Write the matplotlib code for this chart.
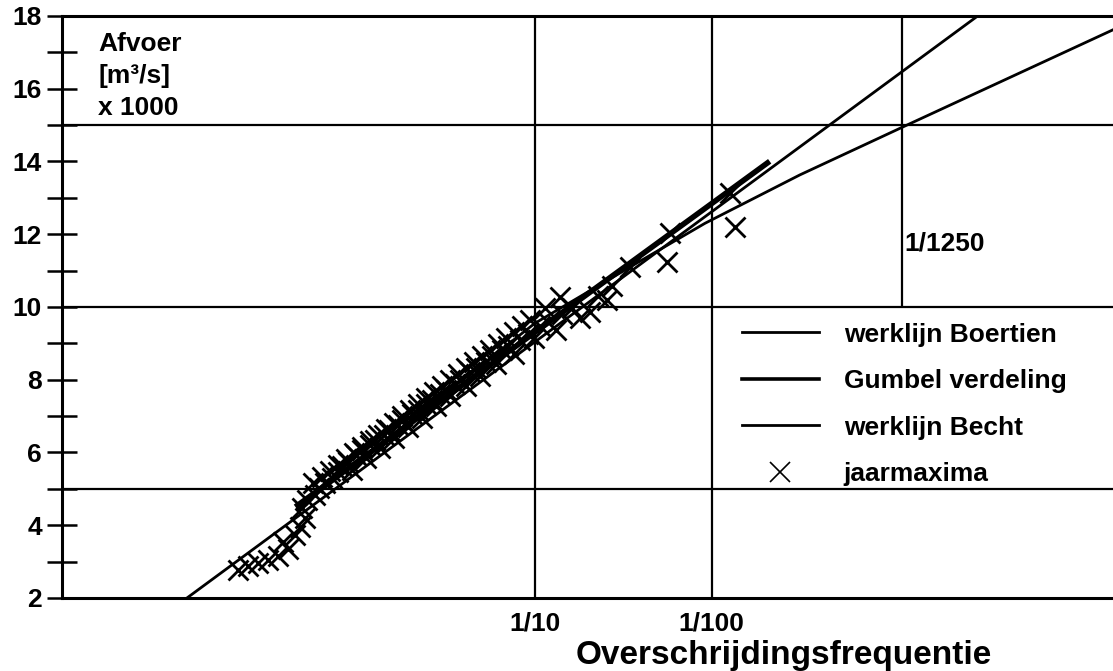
import numpy as np
import matplotlib.pyplot as plt
from matplotlib.lines import Line2D

plt.rcParams['font.family'] = ['Liberation Sans', 'DejaVu Sans']
plt.rcParams['font.weight'] = 'bold'

# jaarmaxima: gereduceerde Gumbel-variabele u en afvoer (x 1000 m3/s)
max_u = [-1.69, -1.56, -1.43, -1.30, -1.16, -1.03, -1.10, -0.94, -0.87, -0.80,
         -0.84, -0.77, -0.67, -0.61, -0.53, -0.45, -0.37, -0.31, -0.23, -0.18,
         -0.13, -0.05, 0.01, 0.06, 0.13, 0.19, 0.25, 0.32, 0.38, 0.43,
         0.48, 0.56, 0.62, 0.70, 0.75, 0.80, 0.88, 0.94, 0.99, 1.07,
         1.12, 1.19, 1.25, 1.33, 1.39, 1.47, 1.52, 1.60, 1.68, 1.73,
         1.81, 1.89, 1.97, 2.05, 2.16, 2.24, 2.32, 2.42, 2.53, 2.61,
         2.74, 2.85, 2.98, 3.09, 3.21, 3.27, 3.51, 4.00, 4.04, 4.84, 4.91,
         -0.69, -0.58, -0.47, -0.37, -0.26, -0.15, -0.05, 0.06, 0.17, 0.27,
         0.38, 0.48, 0.59, 0.70, 0.80, 0.91, 1.02, 1.12, 1.23, 1.33,
         1.44, 1.55, 1.65, 1.76, 1.87, 1.97, 2.08, 2.18, 2.38, 2.58]
max_q = [2.77, 2.88, 2.96, 3.04, 3.15, 3.35, 3.54, 3.73, 3.95, 4.20,
         4.47, 4.69, 4.83, 5.02, 5.16, 5.30, 5.46, 5.63, 5.74, 5.52,
         5.93, 6.07, 5.85, 6.21, 6.34, 6.12, 6.48, 6.62, 6.40, 6.76,
         6.89, 6.70, 7.06, 7.17, 6.95, 7.33, 7.44, 7.28, 7.61, 7.72,
         7.55, 7.88, 7.99, 7.83, 8.21, 8.32, 8.10, 8.49, 8.65, 8.43,
         8.82, 8.93, 8.71, 9.09, 9.26, 9.15, 9.48, 9.59, 9.37, 9.81,
         9.97, 9.70, 9.86, 10.30, 10.19, 10.58, 11.10, 11.24, 12.03, 13.13, 12.20,
         5.16, 5.33, 5.49, 5.66, 5.82, 5.99, 6.15, 6.32, 6.48, 6.65,
         6.81, 7.00, 7.17, 7.33, 7.50, 7.66, 7.83, 7.99, 8.16, 8.32,
         8.49, 8.65, 8.82, 8.98, 9.15, 9.31, 9.48, 9.64, 9.97, 10.28]

# werklijnen en Gumbel verdeling (u, afvoer)
becht_u = [-2.37, 8.10]
becht_q = [2.0, 17.95]
gumbel_u = [-0.90, 5.34]
gumbel_q = [4.55, 13.96]
boertien_u = [-0.90, 2.25, 3.64, 4.51, 5.77, 7.14, 9.93]
boertien_q = [4.45, 9.55, 11.25, 12.30, 13.63, 14.95, 17.62]

freq_labels = ['1/10', '1/100']
freq_values = [1 / 10, 1 / 100]
design_freq = 1 / 1250
hgrid = [5, 10, 15]


def gumbel(f):
    # overschrijdingsfrequentie -> gereduceerde variabele
    return -np.log(-np.log(1 - np.asarray(f)))


fig = plt.figure(figsize=(11.13, 6.71), dpi=100)
ax = fig.add_axes([0.0557, 0.1088, 0.9443, 0.8674])
ax.set_xlim(-4.03, 9.93)
ax.set_ylim(2, 18)

lw = 2.0
for h in hgrid:
    ax.axhline(h, color='k', lw=1.6, zorder=1)
for f in freq_values:
    ax.axvline(gumbel(f), color='k', lw=1.6, zorder=1)
ax.vlines(gumbel(design_freq), 10, 18, color='k', lw=1.6, zorder=1)
ax.text(gumbel(design_freq) + 0.03, 11.75, '1/1250', fontsize=19, va='center', ha='left')

ax.plot(boertien_u, boertien_q, color='k', lw=lw, zorder=3)
ax.plot(gumbel_u, gumbel_q, color='k', lw=4, zorder=3)
ax.plot(becht_u, becht_q, color='k', lw=lw, zorder=3)
ax.plot(max_u, max_q, 'x', color='k', ms=15, mew=2.0, zorder=4)

ax.set_yticks(range(2, 19, 2))
ax.set_yticks(range(3, 18, 2), minor=True)
ax.tick_params(axis='y', which='both', direction='inout', length=21, width=1.8,
               labelsize=19, pad=4)
ax.set_xticks(gumbel(freq_values))
ax.set_xticklabels(freq_labels)
ax.tick_params(axis='x', length=0, labelsize=19, pad=10)

for s in ['left', 'bottom', 'top']:
    ax.spines[s].set_linewidth(2.2)
ax.spines['right'].set_visible(False)

ax.set_xlabel('Overschrijdingsfrequentie', fontsize=24, fontweight='bold')
ax.xaxis.set_label_coords(0.687, -0.072)

ax.text(-3.55, 17.55, 'Afvoer\n[m³/s]\nx 1000', fontsize=19, va='top', ha='left',
        linespacing=1.4)

handles = [Line2D([], [], color='k', lw=lw),
           Line2D([], [], color='k', lw=lw + 0.6),
           Line2D([], [], color='k', lw=lw),
           Line2D([], [], color='k', ls='none', marker='x', ms=14, mew=1.2)]
labels = ['werklijn Boertien', 'Gumbel verdeling', 'werklijn Becht', 'jaarmaxima']
ax.legend(handles, labels, loc='upper left', bbox_to_anchor=(0.647, 0.473),
          frameon=False, fontsize=19, borderpad=0, borderaxespad=0,
          handlelength=2.9, handletextpad=0.95, labelspacing=0.85)

fig.savefig('out.png', dpi=100)
